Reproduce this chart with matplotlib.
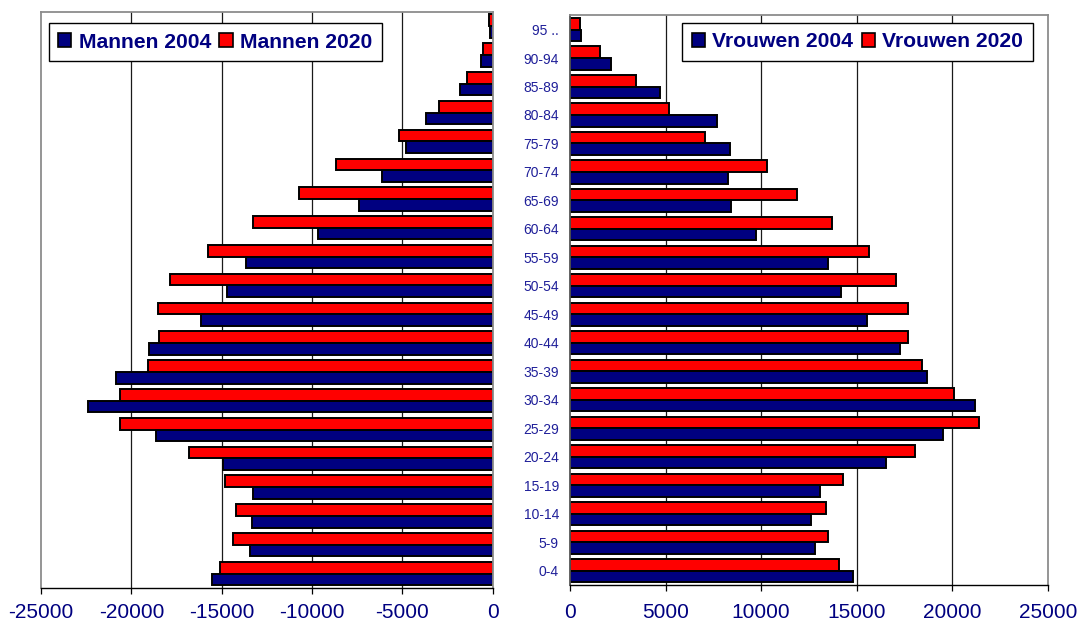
import matplotlib
matplotlib.use("Agg")
import matplotlib.pyplot as plt
from matplotlib.patches import Patch
import numpy as np

plt.rcParams['font.family'] = ['Liberation Sans', 'DejaVu Sans']

age_groups = ["0-4", "5-9", "10-14", "15-19", "20-24", "25-29", "30-34", "35-39",
              "40-44", "45-49", "50-54", "55-59", "60-64", "65-69", "70-74",
              "75-79", "80-84", "85-89", "90-94", "95 .."]

# men are plotted as negative numbers (left side of the pyramid)
men_2004 = [-15550, -13450, -13350, -13250, -14950, -18650, -22400, -20850,
            -19000, -16150, -14700, -13650, -9700, -7400, -6150, -4800,
            -3700, -1800, -650, -150]
men_2020 = [-15100, -14400, -14200, -14800, -16800, -20650, -20650, -19100,
            -18450, -18550, -17850, -15750, -13250, -10750, -8650, -5200,
            -3000, -1450, -550, -200]

women_2004 = [14800, 12800, 12600, 13100, 16550, 19500, 21200, 18700,
              17250, 15550, 14200, 13500, 9750, 8450, 8250, 8350,
              7700, 4700, 2150, 600]
women_2020 = [14100, 13500, 13400, 14300, 18050, 21400, 20100, 18400,
              17700, 17700, 17050, 15650, 13700, 11900, 10300, 7050,
              5200, 3450, 1550, 500]

left_ticks = [-25000, -20000, -15000, -10000, -5000, 0]
right_ticks = [0, 5000, 10000, 15000, 20000, 25000]

NAVY = "#000080"
RED = "#ff0000"
FRAME = "#8c8c8c"

W, H = 1080, 624
fig = plt.figure(figsize=(W / 100, H / 100), dpi=100)
fig.patch.set_facecolor("white")

ax_m = fig.add_axes([41 / W, 1 - 588 / H, (492.8 - 41) / W, (588 - 11.7) / H])
ax_w = fig.add_axes([570 / W, 1 - 585 / H, (1047.7 - 570) / W, (585 - 15.3) / H])

y = np.arange(len(age_groups))
h = 0.405


def style_axes(ax, xlim, ticks, pad):
    ax.set_xlim(*xlim)
    ax.set_ylim(-0.5, len(age_groups) - 0.5)
    ax.set_xticks(ticks)
    ax.set_xticklabels([str(t) for t in ticks])
    ax.tick_params(axis="x", direction="out", length=4, width=0.9,
                   color="black", pad=pad, labelsize=15, labelcolor=NAVY)
    for t in ticks[1:-1]:
        ax.axvline(t, color="#1a1a1a", lw=0.9, zorder=0.5)
    for side in ("top", "left", "right"):
        ax.spines[side].set_color(FRAME)
        ax.spines[side].set_linewidth(1.3)
    ax.spines["bottom"].set_color("black")
    ax.spines["bottom"].set_linewidth(1.0)


bar_kw = dict(height=h, edgecolor="black", linewidth=1.4, zorder=2)

# Men
ax_m.barh(y + h / 2, men_2020, color=RED, **bar_kw)
ax_m.barh(y - h / 2, men_2004, color=NAVY, **bar_kw)
style_axes(ax_m, (-25000, 0), left_ticks, pad=7)
ax_m.set_yticks([])

# Women
ax_w.barh(y + h / 2, women_2020, color=RED, **bar_kw)
ax_w.barh(y - h / 2, women_2004, color=NAVY, **bar_kw)
style_axes(ax_w, (0, 25000), right_ticks, pad=9)
ax_w.set_yticks(y)
ax_w.set_yticklabels(age_groups)
ax_w.tick_params(axis="y", length=0, pad=8, labelsize=10, labelcolor="#1f1f99")
ax_w.spines["left"].set_color("#555555")

legend_kw = dict(ncol=2, frameon=True, fancybox=False, framealpha=1,
                 edgecolor="black", handlelength=0.62, handleheight=0.62,
                 handletextpad=0.35, columnspacing=0.4, borderpad=0.45,
                 borderaxespad=0,
                 prop=dict(family="Liberation Sans", weight="bold", size=15.2))

leg_m = ax_m.legend(handles=[Patch(facecolor=NAVY, edgecolor="black", lw=1.2),
                             Patch(facecolor=RED, edgecolor="black", lw=1.2)],
                    labels=["Mannen 2004", "Mannen 2020"],
                    loc="upper left", bbox_to_anchor=(0.017, 0.98), **legend_kw)
leg_w = ax_w.legend(handles=[Patch(facecolor=NAVY, edgecolor="black", lw=1.2),
                             Patch(facecolor=RED, edgecolor="black", lw=1.2)],
                    labels=["Vrouwen 2004", "Vrouwen 2020"],
                    loc="upper right", bbox_to_anchor=(0.9686, 0.987), **legend_kw)
for leg in (leg_m, leg_w):
    leg.get_frame().set_linewidth(1.0)
    for txt in leg.get_texts():
        txt.set_color(NAVY)

fig.savefig("out.png", dpi=100, facecolor="white")
